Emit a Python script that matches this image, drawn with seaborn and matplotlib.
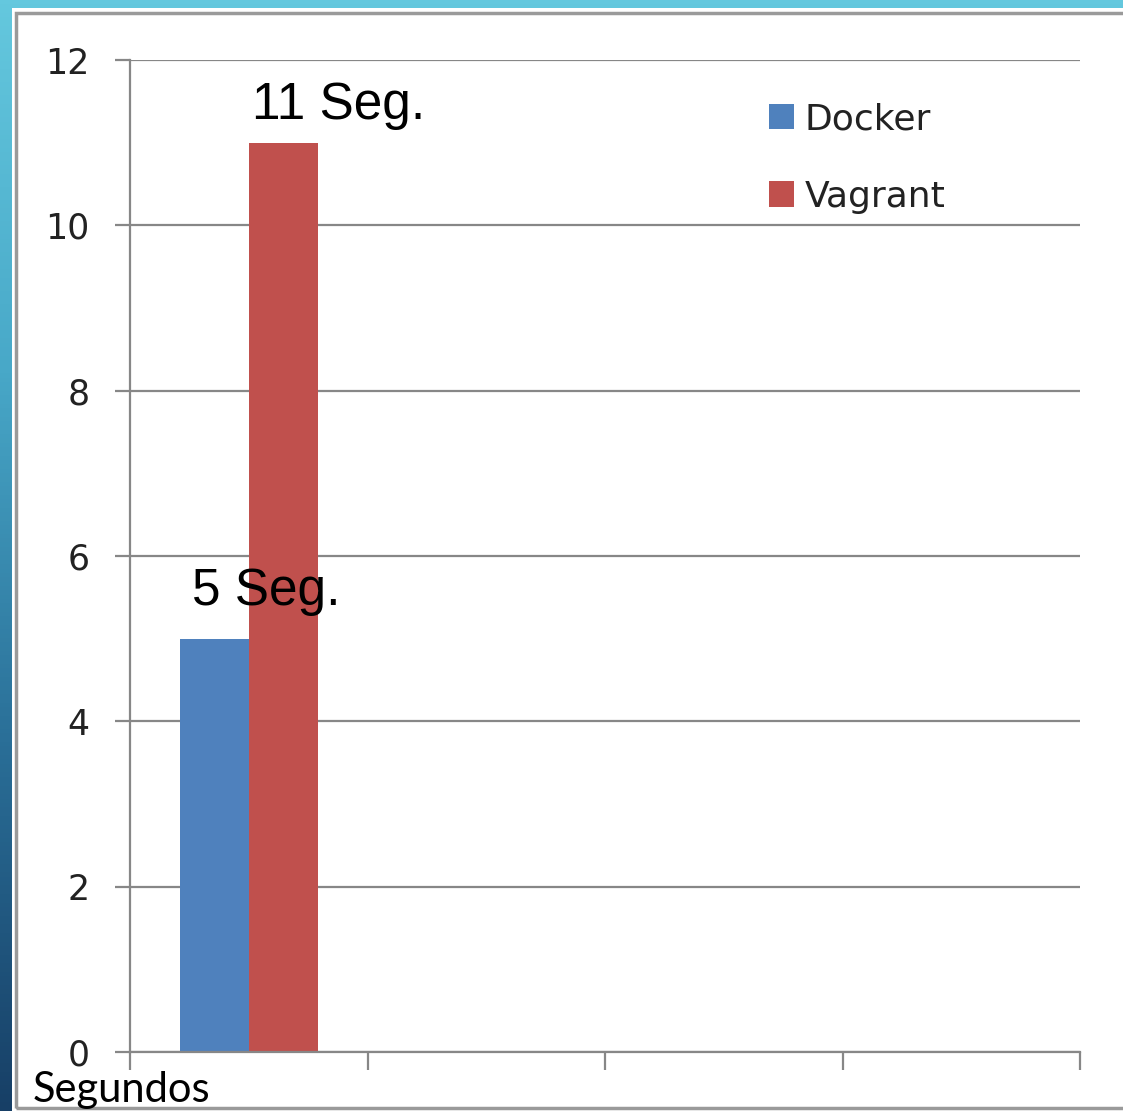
import numpy as np
import pandas as pd
import matplotlib
matplotlib.use("Agg")
import matplotlib.pyplot as plt
from matplotlib.patches import Rectangle
from matplotlib.colors import LinearSegmentedColormap
import seaborn as sns

# ---- data ----
categories = ["Arranque"]
systems = ["Docker", "Vagrant"]
seconds = [5, 11]
bar_labels = ["5 Seg.", "11 Seg."]
y_ticks = [0, 2, 4, 6, 8, 10, 12]
y_label_text = "Segundos"
colors = ["#4f81bd", "#c0504d"]

df = pd.DataFrame({
    "categoria": categories * len(systems),
    "sistema": systems,
    "segundos": seconds,
})

sns.set_theme(style="white")
W, H = 1123, 1111
fig = plt.figure(figsize=(W / 100, H / 100), dpi=100)

# background gradient + white panel
bg = fig.add_axes([0, 0, 1, 1], zorder=-10)
grad = np.linspace(0, 1, 256).reshape(-1, 1)
cmap = LinearSegmentedColormap.from_list("bg", ["#64c8de", "#48a8c8", "#2a6f98", "#173f66"])
bg.imshow(grad, aspect="auto", cmap=cmap, extent=[0, 1, 0, 1])
bg.add_patch(Rectangle((12 / W, 0), 1, 1 - 8 / H, facecolor="white", edgecolor="none"))
bg.add_patch(Rectangle((16 / W, 3 / H), 1.0, 1 - 16 / H, facecolor="none",
                       edgecolor="#9a9a9a", linewidth=2.5))
bg.set_xlim(0, 1)
bg.set_ylim(0, 1)
bg.axis("off")

ax = fig.add_axes([130 / W, 1 - 1052 / H, 950 / W, 992 / H])
sns.barplot(data=df, x="categoria", y="segundos", hue="sistema", palette=colors,
            width=0.58, gap=0, linewidth=0, saturation=1, ax=ax, legend=True)

ax.set_xlim(-0.5, 3.5)
ax.set_ylim(0, 12)
ax.set_yticks(y_ticks)
ax.set_xticks([-0.5, 0.5, 1.5, 2.5, 3.5])
ax.set_xticklabels([])
ax.set_xlabel("")
ax.set_ylabel("")
grey = "#878787"
ax.grid(axis="y", color=grey, linewidth=1.6)
ax.set_axisbelow(True)
for s in ["top", "right"]:
    ax.spines[s].set_visible(False)
for s in ["left", "bottom"]:
    ax.spines[s].set_color(grey)
    ax.spines[s].set_linewidth(1.6)
ax.tick_params(axis="y", length=11, width=1.6, color=grey, pad=18,
               labelsize=25, labelcolor="#222222", left=True)
ax.tick_params(axis="x", length=13, width=1.6, color=grey, bottom=True)
for t in ax.get_yticklabels():
    t.set_family("DejaVu Sans")

# bar labels
bars = [p for p in ax.patches if p.get_height() > 0]
bars.sort(key=lambda p: p.get_x())
offsets = [(9, 16), (2, 9)]
for p, lab, off in zip(bars, bar_labels, offsets):
    ax.annotate(lab, xy=(p.get_x(), p.get_height()), xytext=off,
                textcoords="offset points", ha="left", va="bottom",
                fontsize=37, family="Liberation Sans", color="black")

leg = ax.legend(loc="upper left", bbox_to_anchor=(0.638, 0.99), frameon=False,
                fontsize=26, handlelength=0.7, handleheight=0.7,
                labelspacing=1.2, handletextpad=0.3)
for t in leg.get_texts():
    t.set_color("#222222")

fig.text(33 / W, 1 - 1090 / H, y_label_text, fontsize=30, family="Lato",
         va="center", ha="left", color="black")

fig.savefig("out.png", dpi=100)
